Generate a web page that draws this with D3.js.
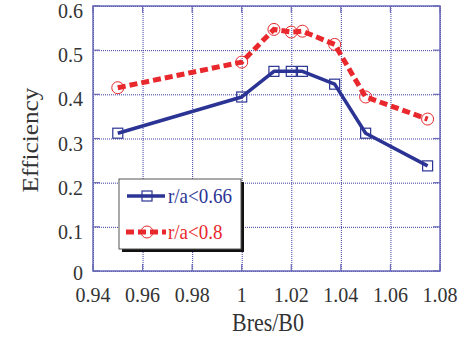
<!DOCTYPE html>
<html><head><meta charset="utf-8">
<script src="https://cdn.jsdelivr.net/npm/d3@7"></script>
<style>body{margin:0;background:#fff}svg{display:block}</style>
</head><body><svg id="c" width="464" height="338"></svg>
<script>
const xTicks = [0.94,0.96,0.98,1.00,1.02,1.04,1.06,1.08];
const xTickLabels = ["0.94","0.96","0.98","1","1.02","1.04","1.06","1.08"];
const yTicks = [0,0.1,0.2,0.3,0.4,0.5,0.6];
const yTickLabels = ["0","0.1","0.2","0.3","0.4","0.5","0.6"];
const bres = [0.95,1.00,1.013,1.02,1.0245,1.0375,1.05,1.075];
const eff066 = [0.312,0.394,0.452,0.452,0.452,0.423,0.312,0.238];
const eff08 = [0.415,0.473,0.547,0.541,0.543,0.513,0.394,0.344];
const seriesNames = ["r/a<0.66","r/a<0.8"];

const svg = d3.select("#c");
const x = d3.scaleLinear().domain([0.94,1.08]).range([93,440]);
const y = d3.scaleLinear().domain([0,0.6]).range([271,6]);
const font = "'Liberation Serif','Times New Roman',serif";
const gridCol = "#3b3ba0", borderCol = "#6a6ab8";

// grid
const g = svg.append("g");
g.append("g").attr("transform","translate(0,271)")
 .call(d3.axisBottom(x).tickValues(xTicks).tickSize(-265).tickFormat(""))
 .call(s=>{s.select(".domain").remove();s.selectAll("line").attr("stroke",gridCol).attr("stroke-dasharray","1,1");});
g.append("g").attr("transform","translate(93,0)")
 .call(d3.axisLeft(y).tickValues(yTicks).tickSize(-347).tickFormat(""))
 .call(s=>{s.select(".domain").remove();s.selectAll("line").attr("stroke",gridCol).attr("stroke-dasharray","1,1");});
// inward solid ticks
const tl = 7;
xTicks.forEach(v=>{
  g.append("line").attr("x1",x(v)).attr("x2",x(v)).attr("y1",271).attr("y2",271-tl).attr("stroke",borderCol).attr("stroke-width",1.2);
  g.append("line").attr("x1",x(v)).attr("x2",x(v)).attr("y1",6).attr("y2",6+tl).attr("stroke",borderCol).attr("stroke-width",1.2);
});
yTicks.forEach(v=>{
  g.append("line").attr("x1",93).attr("x2",93+tl).attr("y1",y(v)).attr("y2",y(v)).attr("stroke",borderCol).attr("stroke-width",1.2);
  g.append("line").attr("x1",440).attr("x2",440-tl).attr("y1",y(v)).attr("y2",y(v)).attr("stroke",borderCol).attr("stroke-width",1.2);
});
g.append("rect").attr("x",93).attr("y",6).attr("width",347).attr("height",265)
 .attr("fill","none").attr("stroke",borderCol).attr("stroke-width",1.5);

// tick labels
xTicks.forEach((v,i)=>{
  svg.append("text").attr("transform",`translate(${x(v)},302) scale(1,1.08)`)
   .attr("text-anchor","middle").attr("font-family",font).attr("font-size",20).attr("fill","#333")
   .text(xTickLabels[i]);
});
yTicks.forEach((v,i)=>{
  svg.append("text").attr("transform",`translate(83,${y(v)+(i===0?9:12)})`)
   .attr("text-anchor","end").attr("font-family",font).attr("font-size",20).attr("fill","#333")
   .text(yTickLabels[i]);
});
// axis titles
svg.append("text").attr("transform","translate(38,140) rotate(-90) scale(1.1,1)")
 .attr("text-anchor","middle").attr("font-family",font).attr("font-size",23).attr("fill","#333").text("Efficiency");
svg.append("text").attr("transform","translate(268,331) scale(1,1.15)")
 .attr("text-anchor","middle").attr("font-family",font).attr("font-size",22).attr("fill","#333").text("Bres/B0");

// series
const blue = "#2b3494", red = "#e8282c";
const line = d3.line().x(d=>x(d[0])).y(d=>y(d[1]));
const d1 = bres.map((b,i)=>[b,eff066[i]]);
const d2 = bres.map((b,i)=>[b,eff08[i]]);
svg.append("path").attr("d",line(d1)).attr("fill","none").attr("stroke",blue).attr("stroke-width",3.5).attr("stroke-linejoin","round");
svg.selectAll(".sq").data(d1).enter().append("rect")
 .attr("x",d=>x(d[0])-5).attr("y",d=>y(d[1])-5).attr("width",10).attr("height",10)
 .attr("fill","none").attr("stroke",blue).attr("stroke-width",1.2);
svg.append("path").attr("d",line(d2)).attr("fill","none").attr("stroke",red).attr("stroke-width",5).attr("stroke-dasharray","8,4");
svg.selectAll(".ci").data(d2).enter().append("circle")
 .attr("cx",d=>x(d[0])).attr("cy",d=>y(d[1])).attr("r",6)
 .attr("fill","none").attr("stroke",red).attr("stroke-width",1);

// legend
const lg = svg.append("g");
lg.append("rect").attr("x",122).attr("y",182).attr("width",122).attr("height",70).attr("fill","#111");
lg.append("rect").attr("x",119).attr("y",179).attr("width",122).attr("height",70).attr("fill","#fff").attr("stroke","#555").attr("stroke-width",1);
lg.append("line").attr("x1",127).attr("x2",165).attr("y1",196).attr("y2",196).attr("stroke",blue).attr("stroke-width",3.5);
lg.append("rect").attr("x",142).attr("y",191).attr("width",10).attr("height",10).attr("fill","none").attr("stroke",blue).attr("stroke-width",1.2);
lg.append("line").attr("x1",126).attr("x2",166).attr("y1",232).attr("y2",232).attr("stroke",red).attr("stroke-width",5).attr("stroke-dasharray","8,4");
lg.append("circle").attr("cx",147).attr("cy",232).attr("r",6).attr("fill","none").attr("stroke",red).attr("stroke-width",1);
lg.append("text").attr("transform","translate(168,203) scale(1,1.1)").attr("font-family",font).attr("font-size",19).attr("fill",blue).text(seriesNames[0]);
lg.append("text").attr("transform","translate(168,239) scale(1,1.1)").attr("font-family",font).attr("font-size",19).attr("fill",red).text(seriesNames[1]);
</script></body></html>
